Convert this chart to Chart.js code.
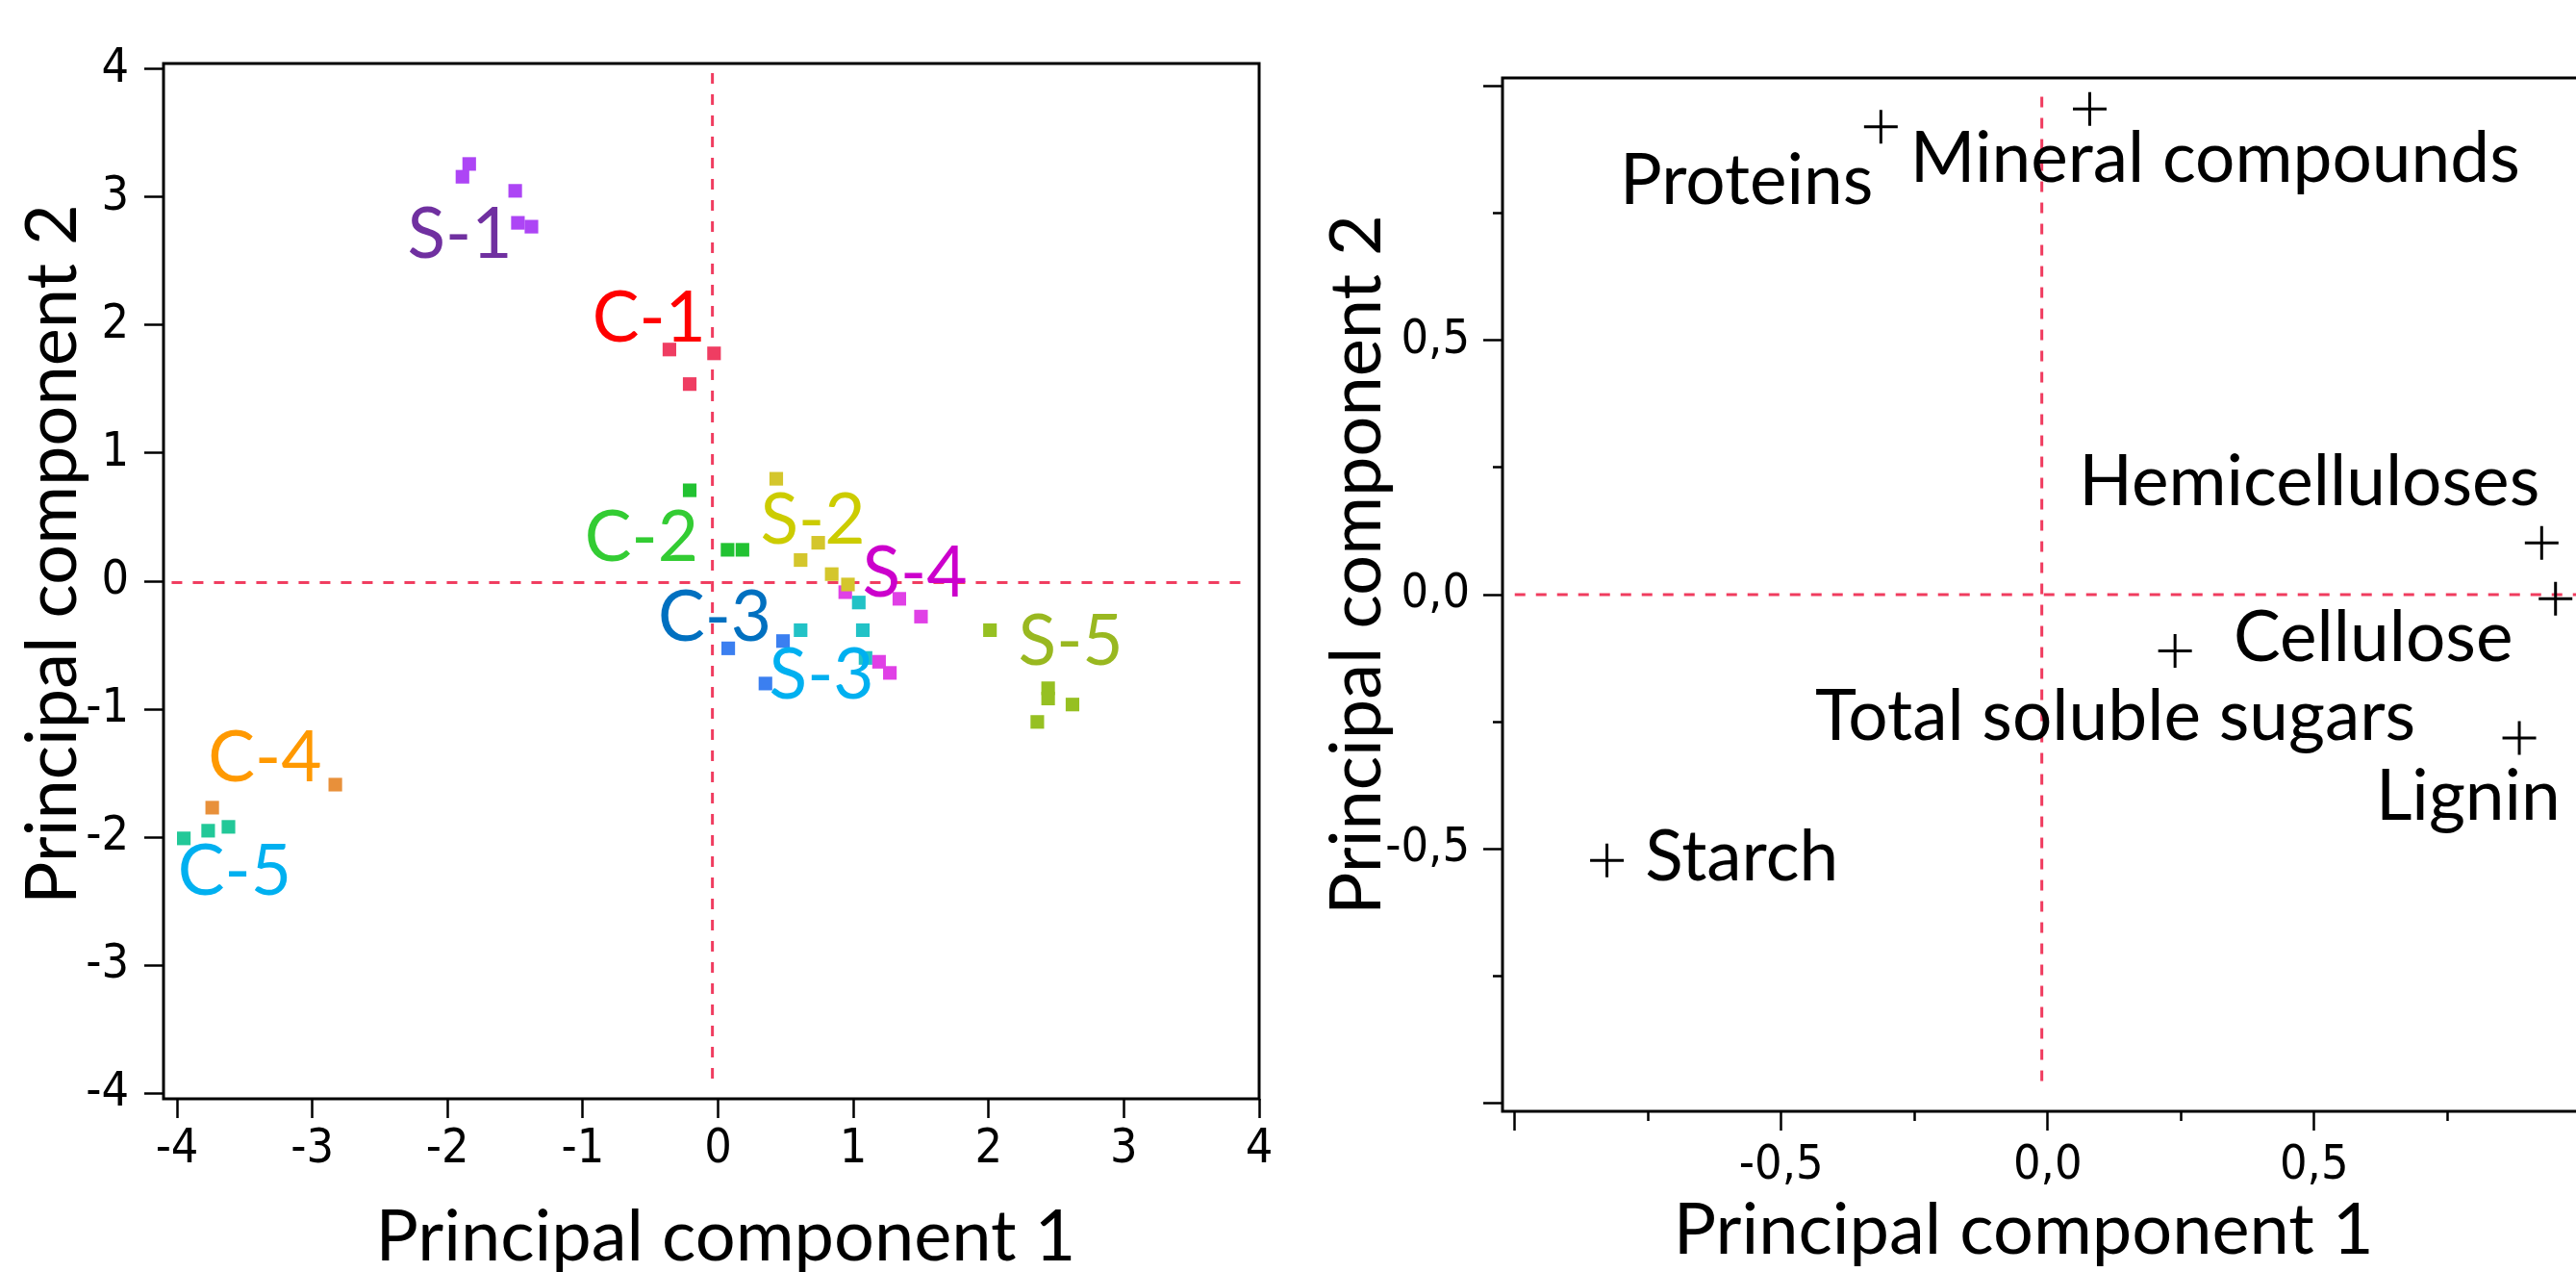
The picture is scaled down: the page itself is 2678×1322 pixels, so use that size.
<!DOCTYPE html>
<html>
<head>
<meta charset="utf-8">
<script src="https://cdn.jsdelivr.net/npm/chart.js@4.4.1/dist/chart.umd.min.js"></script>
<style>
  html, body { margin: 0; padding: 0; background: #fff; overflow: hidden; }
  #scores { position: absolute; left: 0; top: 0; width: 1340px; height: 1322px; }
  #loadings { position: absolute; left: 1340px; top: 0; width: 1400px; height: 1322px; }
</style>
</head>
<body>
<div id="scores"><canvas id="scoresChart"></canvas></div>
<div id="loadings"><canvas id="loadingsChart"></canvas></div>
<script>
// ---- Scores plot (samples), PC1 / PC2 ----
const groups = ["S-1", "C-1", "C-2", "S-2", "S-4", "S-3", "C-3", "S-5", "C-4", "C-5"];
const s1PC1 = [-1.84, -1.89, -1.50, -1.48, -1.38];
const s1PC2 = [3.26, 3.16, 3.05, 2.80, 2.77];
const c1PC1 = [-0.36, -0.03, -0.21];
const c1PC2 = [1.81, 1.78, 1.54];
const c2PC1 = [-0.21, 0.07, 0.18];
const c2PC2 = [0.71, 0.245, 0.245];
const s2PC1 = [0.43, 0.74, 0.61, 0.84, 0.96];
const s2PC2 = [0.80, 0.30, 0.165, 0.055, -0.026];
const s4PC1 = [0.94, 1.34, 1.50, 1.19, 1.27];
const s4PC2 = [-0.086, -0.138, -0.277, -0.63, -0.717];
const s3PC1 = [1.04, 0.61, 1.07, 1.09];
const s3PC2 = [-0.167, -0.383, -0.383, -0.60];
const c3PC1 = [0.075, 0.48, 0.35];
const c3PC2 = [-0.525, -0.468, -0.80];
const s5PC1 = [2.01, 2.44, 2.44, 2.62, 2.36];
const s5PC2 = [-0.383, -0.837, -0.917, -0.964, -1.10];
const c4PC1 = [-2.83, -3.74];
const c4PC2 = [-1.59, -1.77];
const c5PC1 = [-3.95, -3.77, -3.62];
const c5PC2 = [-2.01, -1.95, -1.92];
const scorePC1 = [s1PC1, c1PC1, c2PC1, s2PC1, s4PC1, s3PC1, c3PC1, s5PC1, c4PC1, c5PC1];
const scorePC2 = [s1PC2, c1PC2, c2PC2, s2PC2, s4PC2, s3PC2, c3PC2, s5PC2, c4PC2, c5PC2];
const scoreTicks = [-4, -3, -2, -1, 0, 1, 2, 3, 4];

// ---- Loadings plot (variables) ----
const variables = ["Proteins", "Mineral compounds", "Hemicelluloses", "Cellulose", "Total soluble sugars", "Lignin", "Starch"];
const loadPC1 = [-0.313, 0.079, 0.927, 0.953, 0.239, 0.885, -0.827];
const loadPC2 = [0.921, 0.956, 0.102, -0.008, -0.111, -0.282, -0.523];
const loadTicks = [-1, -0.75, -0.5, -0.25, 0, 0.25, 0.5, 0.75, 1];
const loadTickLabels = ["", "", "-0,5", "", "0,0", "", "0,5", "", ""];

// label anchors (data units: centre x, baseline y)
const groupLabelX = [-1.91, -0.51, -0.566, 0.70, 1.454, 0.765, -0.025, 2.607, -3.35, -3.574];
const groupLabelY = [2.53, 1.87, 0.158, 0.293, -0.12, -0.917, -0.466, -0.654, -1.564, -2.45];
const varLabelX = [-0.565, 0.314, 0.491, 0.611, 0.127, 0.789, -0.574];
const varLabelY = [0.768, 0.813, 0.1756, -0.1316, -0.286, -0.444, -0.563];

// reference (origin) lines as drawn in the original
const scoreRefV = { x: -0.042, from: 3.97, to: -3.95 };
const scoreRefH = { y: -0.011, from: -4.04, to: 3.9 };
const loadRefV = { x: -0.011, from: 0.98, to: -0.97 };
const loadRefH = { y: 0.0, from: -1.0, to: 1.03 };

const GROUP_STYLE = {
  "S-1": { point: "#ad45f5", text: "#7030a0" },
  "C-1": { point: "#ef3d62", text: "#ff0000" },
  "C-2": { point: "#22c232", text: "#33cc33" },
  "S-2": { point: "#d4c62c", text: "#cccc00" },
  "S-4": { point: "#e040e6", text: "#cc00cc" },
  "S-3": { point: "#22c2c6", text: "#00b0f0" },
  "C-3": { point: "#3b7ff0", text: "#0070c0" },
  "S-5": { point: "#96c022", text: "#99b820" },
  "C-4": { point: "#e8903a", text: "#ff9900" },
  "C-5": { point: "#22c898", text: "#00b0f0" }
};

const TEXT_FONT = "Lato, 'DejaVu Sans', sans-serif";
const TICK_FONT = "'Liberation Sans Narrow', 'DejaVu Sans Condensed', 'Liberation Sans', sans-serif";
const REF_RED = "#f03c5f";
const TITLE_SIZE = 74;
const LABEL_SIZE = 73;

Chart.defaults.animation = false;
Chart.defaults.color = "#000";

/**
 * Plugins: text labels at data positions, axis titles, and a box round the chart area
 */
const dataLabels = {
  id: "dataLabels",
  afterDatasetsDraw(chart, args, opts) {
    const { ctx, scales } = chart;
    ctx.save();
    ctx.font = `${opts.size}px ${TEXT_FONT}`;
    ctx.textAlign = "center";
    ctx.textBaseline = "alphabetic";
    opts.items.forEach(it => {
      ctx.fillStyle = it.color;
      ctx.fillText(it.text, scales.x.getPixelForValue(it.x), scales.y.getPixelForValue(it.y));
    });
    ctx.restore();
  }
};

// axis titles: centred on the plot area with a small shift, like the original layout
const axisTitles = {
  id: "axisTitles",
  afterDraw(chart, args, opts) {
    const { ctx, chartArea: a } = chart;
    ctx.save();
    ctx.font = `${TITLE_SIZE}px ${TEXT_FONT}`;
    ctx.fillStyle = "#000";
    ctx.textAlign = "center";
    ctx.textBaseline = "alphabetic";
    ctx.fillText(opts.x.text, (a.left + a.right) / 2 + opts.x.shift, opts.x.baseline);
    ctx.translate(opts.y.baseline, (a.top + a.bottom) / 2 + opts.y.shift);
    ctx.rotate(-Math.PI / 2);
    ctx.fillText(opts.y.text, 0, 0);
    ctx.restore();
  }
};

const frame = {
  id: "frame",
  afterDraw(chart) {
    const { ctx, chartArea: a } = chart;
    ctx.save();
    ctx.strokeStyle = "#000";
    ctx.lineWidth = 3;
    ctx.strokeRect(a.left, a.top, a.right - a.left, a.bottom - a.top);
    ctx.restore();
  }
};

function refLines(v, h) {
  const base = {
    type: "line", showLine: true, pointRadius: 0, borderColor: REF_RED,
    borderWidth: 3, borderDash: [11, 11], order: 10, fill: false
  };
  return [
    { ...base, data: [{ x: v.x, y: v.from }, { x: v.x, y: v.to }] },
    { ...base, data: [{ x: h.from, y: h.y }, { x: h.to, y: h.y }] }
  ];
}

function isMajor(ctx) {
  const v = ctx.tick ? ctx.tick.value : 0;
  return Math.abs(v * 2 - Math.round(v * 2)) < 1e-6;
}

function axis(cfg) {
  return {
    type: "linear",
    position: cfg.position,
    min: cfg.min,
    max: cfg.max,
    afterBuildTicks: s => { s.ticks = cfg.ticks.map(v => ({ value: v })); },
    afterFit: s => {
      if (cfg.position === "left") s.width = cfg.size;
      else s.height = cfg.size;
    },
    ticks: {
      autoSkip: false, maxRotation: 0, color: "#000", padding: cfg.tickPadding,
      font: { family: TICK_FONT, size: 50, lineHeight: 1 },
      callback: cfg.label
    },
    grid: {
      drawOnChartArea: false, tickLength: 20, tickWidth: 2.5, tickColor: "#000",
      tickBorderDash: cfg.minorDash || [],
      tickBorderDashOffset: cfg.minorOffset || 0
    },
    border: { display: false },
    title: { display: false }
  };
}

const baseOptions = {
  responsive: true,
  maintainAspectRatio: false,
  devicePixelRatio: 1,
  events: [],
  plugins: { legend: { display: false }, tooltip: { enabled: false } }
};

// scores chart
const scoreSets = groups.map((g, i) => ({
  label: g,
  data: scorePC1[i].map((x, k) => ({ x, y: scorePC2[i][k] })),
  pointStyle: "rect",
  pointRadius: 10,
  backgroundColor: GROUP_STYLE[g].point,
  borderWidth: 0,
  order: 0
}));

new Chart(document.getElementById("scoresChart"), {
  type: "scatter",
  data: { datasets: [...scoreSets, ...refLines(scoreRefV, scoreRefH)] },
  options: {
    ...baseOptions,
    layout: { padding: { left: 0, top: 66, right: 31, bottom: 0 } },
    scales: {
      x: axis({ position: "bottom", min: -4.1, max: 4.0, ticks: scoreTicks, size: 180, tickPadding: 8,
        label: v => String(v) }),
      y: axis({ position: "left", min: -4.045, max: 4.045, ticks: scoreTicks, size: 170, tickPadding: 16,
        label: v => String(v) })
    },
    plugins: {
      ...baseOptions.plugins,
      axisTitles: {
        x: { text: "Principal component 1", shift: 15, baseline: 1310 },
        y: { text: "Principal component 2", shift: -28, baseline: 79 }
      },
      dataLabels: {
        size: LABEL_SIZE,
        items: groups.map((g, i) => ({ text: g, x: groupLabelX[i], y: groupLabelY[i], color: GROUP_STYLE[g].text }))
      }
    }
  },
  plugins: [dataLabels, frame, axisTitles]
});

// loadings chart
const loadSet = {
  label: "Variables",
  data: loadPC1.map((x, i) => ({ x, y: loadPC2[i] })),
  pointStyle: "cross",
  pointRadius: 17.5,
  borderColor: "#000",
  borderWidth: 3,
  order: 0
};

new Chart(document.getElementById("loadingsChart"), {
  type: "scatter",
  data: { datasets: [loadSet, ...refLines(loadRefV, loadRefH)] },
  options: {
    ...baseOptions,
    layout: { padding: { left: 0, top: 81, right: 44.5, bottom: 0 } },
    scales: {
      x: axis({ position: "bottom", min: -1.023, max: 1.023, ticks: loadTicks, size: 167, tickPadding: 12,
        label: v => loadTickLabels[loadTicks.indexOf(v)],
        minorDash: c => (isMajor(c) ? [] : [10, 40]) }),
      y: axis({ position: "left", min: -1.017, max: 1.017, ticks: loadTicks, size: 222, tickPadding: 14,
        label: v => loadTickLabels[loadTicks.indexOf(v)],
        minorDash: c => (isMajor(c) ? [] : [10, 10]),
        minorOffset: c => (isMajor(c) ? 0 : 10) })
    },
    plugins: {
      ...baseOptions.plugins,
      axisTitles: {
        x: { text: "Principal component 1", shift: -25, baseline: 1303 },
        y: { text: "Principal component 2", shift: -31, baseline: 95 }
      },
      dataLabels: {
        size: LABEL_SIZE,
        items: variables.map((v, i) => ({ text: v, x: varLabelX[i], y: varLabelY[i], color: "#000" }))
      }
    }
  },
  plugins: [dataLabels, frame, axisTitles]
});
</script>
</body>
</html>
